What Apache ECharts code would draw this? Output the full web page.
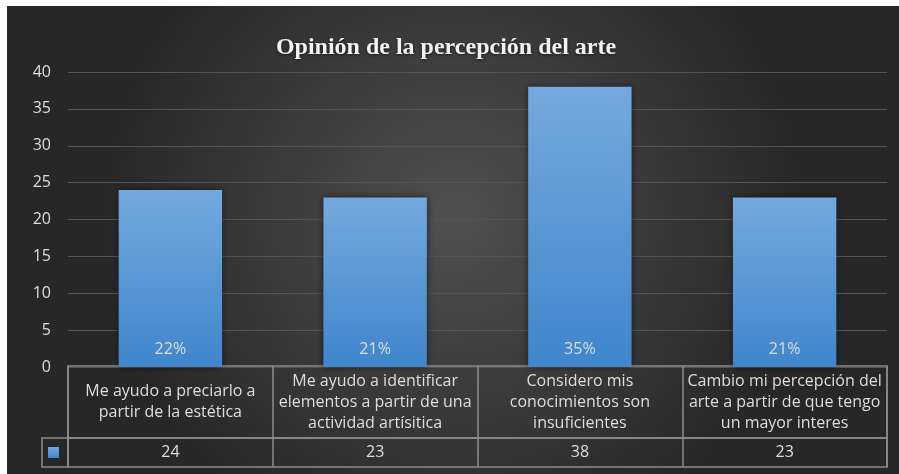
<!DOCTYPE html>
<html>
<head>
<meta charset="utf-8">
<script src="https://cdn.jsdelivr.net/npm/echarts@6/dist/echarts.min.js"></script>
<style>
  html, body { margin: 0; padding: 0; background: #fff; }
  #chart { position: absolute; left: 7px; top: 6px; width: 892px; height: 468px; }
</style>
</head>
<body>
<div id="chart"></div>
<script>
const categories = [
    'Me ayudo a preciarlo a\npartir de la estética',
    'Me ayudo a identificar\nelementos a partir de una\nactividad artísitica',
    'Considero mis\nconocimientos son\ninsuficientes',
    'Cambio mi percepción del\narte a partir de que tengo\nun mayor interes'
];
const values = [24, 23, 38, 23];
const percentLabels = ['22%', '21%', '35%', '21%'];
const yTicks = [0, 5, 10, 15, 20, 25, 30, 35, 40];

const textColor = '#dedede';
const lineColor = '#8c8c8c';
const font = 'Open Sans';

const chart = echarts.init(document.getElementById('chart'));
chart.setOption({
    backgroundColor: {
        type: 'radial', x: 0.5, y: 0.45, r: 0.75,
        colorStops: [{offset: 0, color: '#505050'}, {offset: 1, color: '#272727'}]
    },
    title: {
        text: 'Opinión de la percepción del arte',
        left: 434, top: 25, textAlign: 'center',
        textStyle: {
            color: '#f2f2f2', fontFamily: 'Liberation Serif', fontWeight: 'bold', fontSize: 24,
            textShadowColor: 'rgba(0,0,0,0.6)', textShadowBlur: 3, textShadowOffsetY: 1
        }
    },
    legend: {
        data: ['Serie'], left: 41, top: 441, itemWidth: 11, itemHeight: 11, icon: 'rect',
        formatter: () => '', itemGap: 0, padding: 0
    },
    grid: [
        {left: 61, right: 12, top: 66, height: 295},
        {left: 61, right: 12, top: 360, height: 72, show: true, borderColor: lineColor, borderWidth: 1.5},
        {left: 61, right: 12, top: 432, height: 29, show: true, borderColor: lineColor, borderWidth: 1.5}
    ],
    xAxis: [
        {
            gridIndex: 0, type: 'category', data: categories,
            axisLine: {show: false}, axisTick: {show: false}, axisLabel: {show: false}
        },
        {
            gridIndex: 1, type: 'category', data: categories,
            axisLine: {show: false}, axisTick: {show: false},
            splitLine: {show: true, interval: 0, lineStyle: {color: lineColor, width: 1.5}},
            axisLabel: {
                inside: true, margin: 36, verticalAlign: 'middle', interval: 0,
                color: textColor, fontFamily: font, fontSize: 16, lineHeight: 21
            }
        },
        {
            gridIndex: 2, type: 'category', data: values.map(String),
            axisLine: {show: false}, axisTick: {show: false},
            splitLine: {show: true, interval: 0, lineStyle: {color: lineColor, width: 1.5}},
            axisLabel: {
                inside: true, margin: 14.5, verticalAlign: 'middle', interval: 0,
                color: textColor, fontFamily: font, fontSize: 16
            }
        }
    ],
    yAxis: [
        {
            gridIndex: 0, type: 'value', min: yTicks[0], max: yTicks[yTicks.length - 1], interval: 5,
            axisLine: {show: false}, axisTick: {show: false},
            splitLine: {lineStyle: {color: '#545454', width: 1}},
            axisLabel: {color: textColor, fontFamily: font, fontSize: 16, margin: 17}
        },
        {gridIndex: 1, show: false},
        {gridIndex: 2, show: false}
    ],
    series: [{
        name: 'Serie',
        type: 'bar',
        data: values,
        barWidth: '50.5%',
        itemStyle: {
            color: {
                type: 'linear', x: 0, y: 0, x2: 0, y2: 1,
                colorStops: [{offset: 0, color: '#74a9de'}, {offset: 1, color: '#3f86cc'}]
            },
            shadowColor: 'rgba(0,0,0,0.55)', shadowBlur: 7
        },
        label: {
            show: true, position: 'insideBottom', distance: 10,
            formatter: p => percentLabels[p.dataIndex],
            color: textColor, fontFamily: font, fontSize: 16
        }
    }],
    graphic: [{
        type: 'rect', shape: {x: 35, y: 432, width: 26, height: 29},
        style: {fill: 'none', stroke: lineColor, lineWidth: 1.5}
    }]
});
</script>
</body>
</html>
